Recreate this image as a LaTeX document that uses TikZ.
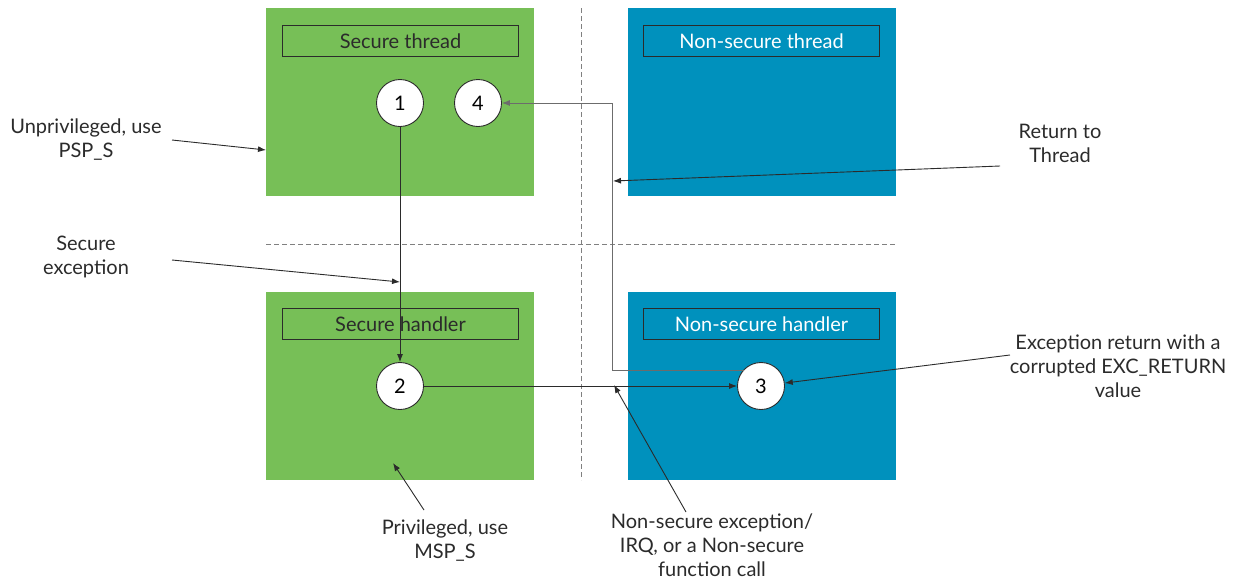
\documentclass[tikz,border=0pt]{standalone}
\usepackage{fontspec}
\setmainfont{Lato}
\usetikzlibrary{arrows.meta}
\definecolor{sgreen}{HTML}{77BF57}
\definecolor{nsblue}{HTML}{0091BD}
\definecolor{ink}{HTML}{2B2B2B}
\begin{document}
\begin{tikzpicture}[x=1pt,y=-1pt,
  region/.style={draw=none,minimum width=268pt,minimum height=188pt,anchor=north west,inner sep=0},
  lbl/.style={draw=ink,line width=1pt,minimum width=236pt,minimum height=31pt,anchor=north west,inner sep=0,font=\fontsize{20}{24}\selectfont},
  num/.style={circle,draw=ink,fill=white,line width=0.9pt,minimum size=47pt,inner sep=0,font=\fontsize{20}{24}\selectfont},
  note/.style={align=center,font=\fontsize{20}{24}\selectfont,text=ink},
  conn/.style={draw=ink,line width=0.9pt,-{Latex[length=8pt,width=6pt]}},
  gconn/.style={draw=gray!85!black,line width=0.9pt,-{Latex[length=8pt,width=6pt]}},
  divider/.style={draw=gray,line width=0.9pt,dash pattern=on 5pt off 3pt}
]
\useasboundingbox (0,0) rectangle (1233,582);
% regions
\node[region,fill=sgreen] (st) at (266,8) {};
\node[region,fill=nsblue] (nt) at (628,8) {};
\node[region,fill=sgreen] (sh) at (266,292) {};
\node[region,fill=nsblue] (nh) at (628,292) {};
% dividers
\coordinate (vtop) at (581,8);
\coordinate (vbot) at (581,480);
\coordinate (hl) at (266,244);
\coordinate (hr) at (895,244);
\draw[divider] (vtop) -- (vbot);
\draw[divider] (hl) -- (hr);
% labels
\node[lbl,fill=sgreen,text=ink] (stl) at (282,25) {Secure thread};
\node[lbl,fill=nsblue,text=white] (ntl) at (643,25) {Non-secure thread};
\node[lbl,fill=sgreen,text=ink] (shl) at (282,308) {Secure handler};
\node[lbl,fill=nsblue,text=white] (nhl) at (643,308) {Non-secure handler};
% circles
\node[num] (c1) at (400,103) {1};
\node[num] (c4) at (478,103) {4};
\node[num] (c2) at (400,386) {2};
\node[num] (c3) at (761,386) {3};
% connectors
\draw[conn] (c1) -- (c2);
\draw[conn] (c2) -- (c3);
\coordinate (r1) at (612,370);
\coordinate (r2) at (612,103);
\draw[gconn] (c3.north west |- r1) -- (r1) -- (r2) -- (c4);
% notes
\node[note] (unp) at (86,140) {Unprivileged, use\\PSP\_S};
\node[note] (sex) at (86,257) {Secure\\exception};
\node[note] (ret) at (1060,143) {Return to\\Thread};
\node[note] (exr) at (1118,366) {Exception return with a\\corrupted EXC\_RETURN\\value};
\node[note] (nsx) at (712,545) {Non-secure exception/\\IRQ, or a Non-secure\\function call};
\node[note] (prv) at (445,541) {Privileged, use\\MSP\_S};
% note arrows
\coordinate (a1) at (172,140);
\coordinate (b1) at (266,150);
\draw[conn] (a1) -- (b1);
\coordinate (a2) at (172,260);
\coordinate (b2) at (400,282);
\draw[conn] (a2) -- (b2);
\coordinate (a3) at (1000,166);
\coordinate (b3) at (613,181);
\draw[conn] (a3) -- (b3);
\coordinate (a4) at (1010,355);
\draw[conn] (a4) -- (c3);
\coordinate (a5) at (686,512);
\coordinate (b5) at (614,385);
\draw[conn] (a5) -- (b5);
\coordinate (a6) at (424,510);
\coordinate (b6) at (393,463);
\draw[conn] (a6) -- (b6);
\end{tikzpicture}
\end{document}
